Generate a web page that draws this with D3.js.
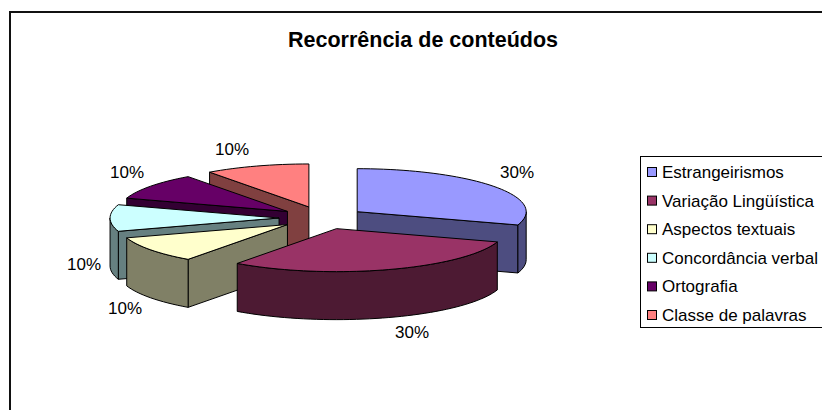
<!DOCTYPE html>
<html>
<head>
<meta charset="utf-8">
<script src="https://cdnjs.cloudflare.com/ajax/libs/d3/7.8.5/d3.min.js"></script>
<style>
  html, body { margin: 0; padding: 0; background: #fff; }
  svg { display: block; }
  text { font-family: "Liberation Sans", Arial, sans-serif; fill: #000; }
</style>
</head>
<body>
<div id="chart"></div>
<script>
// data
const categories = ['Estrangeirismos', 'Variação Lingüística', 'Aspectos textuais', 'Concordância verbal', 'Ortografia', 'Classe de palavras'];
const values = [30, 30, 10, 10, 10, 10];
const explosion = [0.25, 0.26, 0.26, 0.26, 0.26, 0.27];
const colors = ['#9999ff', '#993366', '#ffffcc', '#ccffff', '#660066', '#ff8080'];
const title = 'Recorrência de conteúdos';

const width = 822,
    height = 410,
    cx = 323,
    cy = 218,
    rx = 169,
    ry = 43,
    depth = 48;

// back slices first, the front ones paint over them
const drawOrder = [5, 4, 3, 0, 2, 1];

const $svg = d3.select('#chart').append('svg')
  .attr('width', width)
  .attr('height', height);

// chart frame, runs off the right and bottom of the picture
$svg.append('rect')
  .attr('x', 10)
  .attr('y', 12)
  .attr('width', width + 20)
  .attr('height', height + 20)
  .attr('fill', '#fff')
  .attr('stroke', '#111')
  .attr('stroke-width', 2);

$svg.append('text')
  .attr('x', 423)
  .attr('y', 47)
  .attr('text-anchor', 'middle')
  .attr('font-size', 21.5)
  .attr('font-weight', 'bold')
  .text(title);

const slices = d3.pie().sort(null)(values);

// tilted pie: clockwise angle from the top, squashed on y
const xScale = d3.scaleLinear().domain([-1, 1]).range([cx - rx, cx + rx]);
const yScale = d3.scaleLinear().domain([-1, 1]).range([cy + ry, cy - ry]);
const project = (a, r) => [xScale(Math.sin(a) * r), yScale(Math.cos(a) * r)];
const line = d3.line();

function arcPoints(a0, a1, offset) {
  const steps = Math.max(2, Math.ceil((a1 - a0) / 0.04));
  return d3.range(steps + 1).map(i => {
    const a = a0 + (a1 - a0) * i / steps;
    const p = project(a, 1);
    return [p[0] + offset[0], p[1] + offset[1]];
  });
}

const $pie = $svg.append('g');

drawOrder.forEach(i => {
  const s = slices[i];
  const mid = (s.startAngle + s.endAngle) / 2;
  const apex = project(mid, explosion[i]);
  const offset = [apex[0] - cx, apex[1] - cy];
  const base = d3.rgb(colors[i]);
  const side = d3.rgb(base.r / 2, base.g / 2, base.b / 2);
  const down = p => [p[0], p[1] + depth];
  const rim = arcPoints(s.startAngle, s.endAngle, offset);

  // straight cut faces that look to the viewer
  const faces = [];
  if (Math.sin(s.startAngle) < -0.001) faces.push(rim[0]);
  if (Math.sin(s.endAngle) > 0.001) faces.push(rim[rim.length - 1]);
  faces.forEach(end => {
    $pie.append('path')
      .attr('d', line([apex, end, down(end), down(apex)]) + 'Z')
      .attr('fill', side)
      .attr('stroke', '#000');
  });

  // outer wall, only the part on the near half of the ellipse
  const near = rim.filter(p => p[1] >= apex[1] - 0.001);
  if (near.length > 1) {
    $pie.append('path')
      .attr('d', line(near.concat(near.map(down).reverse())) + 'Z')
      .attr('fill', side)
      .attr('stroke', '#000');
  }

  $pie.append('path')
    .attr('d', line([apex].concat(rim)) + 'Z')
    .attr('fill', colors[i])
    .attr('stroke', '#000');
});

// percentage labels
const labelX = [517, 412, 125, 84, 127, 232];
const labelY = [178, 338, 314, 270, 178, 155];
const total = d3.sum(values);
$svg.append('g').selectAll('text')
  .data(values)
  .enter()
  .append('text')
  .attr('x', (d, i) => labelX[i])
  .attr('y', (d, i) => labelY[i])
  .attr('text-anchor', 'middle')
  .attr('font-size', 17)
  .text(d => d3.format('.0%')(d / total));

// legend
const legendY = d3.scalePoint().domain(categories).range([172, 315]);
$svg.append('rect')
  .attr('x', 640.5)
  .attr('y', 156.5)
  .attr('width', 200)
  .attr('height', 171)
  .attr('fill', '#fff')
  .attr('stroke', '#000');

const $legend = $svg.append('g').selectAll('g')
  .data(categories)
  .enter()
  .append('g')
  .attr('transform', d => `translate(0, ${legendY(d)})`);

$legend.append('rect')
  .attr('x', 647.5)
  .attr('y', -4.5)
  .attr('width', 9)
  .attr('height', 9)
  .attr('fill', (d, i) => colors[i])
  .attr('stroke', '#000');

$legend.append('text')
  .attr('x', 662)
  .attr('y', 6)
  .attr('font-size', 17)
  .text(d => d);
</script>
</body>
</html>
